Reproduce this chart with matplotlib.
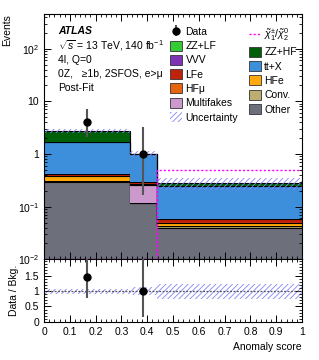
import numpy as np
import matplotlib
matplotlib.use("Agg")
import matplotlib.pyplot as plt
from matplotlib.patches import Patch
from matplotlib.lines import Line2D
from matplotlib.ticker import FixedLocator, MultipleLocator, LogLocator, NullFormatter

plt.rcParams['font.family'] = ['Liberation Sans', 'DejaVu Sans']
plt.rcParams['mathtext.fontset'] = 'custom'
plt.rcParams['mathtext.rm'] = 'Liberation Sans'
plt.rcParams['mathtext.it'] = 'Liberation Sans:italic'
plt.rcParams['hatch.linewidth'] = 0.6

# binning and data
edges = np.array([0.0, 0.333, 0.437, 1.0])
data = np.array([4, 1, 0])
data_lo = np.array([2.09, 0.17, 0.0])
data_hi = np.array([7.16, 3.30, 0.0])

# stacked backgrounds, bottom to top
bkg_names = ['Other', 'Conv.', 'Multifakes', 'HF$\\mu$', 'HFe', 'LFe', 'VVV', 'tt+X', 'ZZ+LF', 'ZZ+HF']
bkg_colors = ['#6d6f7b', '#bcae70', '#cc99cc', '#e8650f', '#ffa90a', '#c0230a', '#7c35b5', '#3d8fdb', '#33cc33', '#00600a']
other = [0.298, 0.115, 0.0387]
conv = [0.010, 0.0, 0.0041]
multifakes = [0.0, 0.142, 0.0]
hfmu = [0.0, 0.0, 0.0]
hfe = [0.079, 0.012, 0.0072]
lfe = [0.033, 0.025, 0.009]
vvv = [0.0, 0.0, 0.0]
ttx = [1.29, 0.70, 0.187]
zzlf = [0.0, 0.0, 0.0]
zzhf = [1.03, 0.01, 0.031]
bkgs = [other, conv, multifakes, hfmu, hfe, lfe, vvv, ttx, zzlf, zzhf]

rel_unc = np.array([0.085, 0.13, 0.24])
signal = np.array([0.0, 0.0, 0.5])
sig_label = r'$\tilde{\chi}^{\pm}_{1}/\tilde{\chi}^{0}_{2}$'

ymin, ymax = 1e-2, 450
unc_col = '#8585f5'

fig = plt.figure(figsize=(3.19, 3.6), dpi=100)
ax = fig.add_axes([0.138, 0.2797, 0.809, 0.6806])
rax = fig.add_axes([0.138, 0.1064, 0.809, 0.1733], sharex=ax)

# stack
bottom = np.zeros(3)
for vals, col in zip(bkgs, bkg_colors):
    vals = np.array(vals)
    ax.stairs(bottom + vals, edges, baseline=bottom, fill=True, color=col, lw=0)
    ax.stairs(bottom + vals, edges, baseline=None, color='black', lw=0.8)
    bottom = bottom + vals
total = bottom

# uncertainty band
ax.stairs(total * (1 + rel_unc), edges, baseline=total * (1 - rel_unc), fill=True,
          facecolor='none', edgecolor=unc_col, hatch='//////', lw=0)
rax.stairs(1 + rel_unc, edges, baseline=1 - rel_unc, fill=True,
           facecolor='none', edgecolor=unc_col, hatch='//////', lw=0)

# signal
ax.stairs(np.maximum(signal, ymin * 1.02), edges, baseline=None, color='#ff00ff', lw=1.0, ls=(0, (1.5, 1.5)))
ax.plot([edges[2], edges[2]], [ymin, signal[2]], color='#ff00ff', lw=1.0, ls=(0, (1.5, 1.5)))

# data
centers = 0.5 * (edges[:-1] + edges[1:])
m = data > 0
data_eb = ax.errorbar(centers[m], data[m], yerr=[data[m] - data_lo[m], data_hi[m] - data[m]],
                      fmt='o', color='black', ecolor='#555555', elinewidth=1.5, ms=5, capsize=0, zorder=5)
ratio = data / total
rax.errorbar(centers[m], ratio[m], yerr=[(data[m] - data_lo[m]) / total[m], (data_hi[m] - data[m]) / total[m]],
             fmt='o', color='black', ecolor='#555555', elinewidth=1.5, ms=5, capsize=0, zorder=5)
rax.axhline(1, color='#555555', lw=0.9, ls=(0, (1.5, 1.2)))

ax.set_yscale('log')
ax.set_ylim(ymin, ymax)
ax.set_xlim(0, 1)
ax.yaxis.set_major_locator(FixedLocator([1e-2, 1e-1, 1, 10, 100]))
ax.set_yticklabels([r'$10^{-2}$', r'$10^{-1}$', '1', '10', r'$10^{2}$'])
ax.yaxis.set_minor_locator(LogLocator(base=10, subs=np.arange(2, 10)))
ax.yaxis.set_minor_formatter(NullFormatter())
ax.tick_params(labelbottom=False)
ax.set_ylabel('Events', loc='top', fontsize=7.5)

rax.set_ylim(0, 2.05)
rax.yaxis.set_major_locator(FixedLocator([0, 0.5, 1, 1.5]))
rax.set_yticklabels(['0', '0.5', '1', '1.5'])
rax.yaxis.set_minor_locator(MultipleLocator(0.1))
rax.xaxis.set_minor_locator(MultipleLocator(0.02))
rax.set_xticks(np.arange(0, 1.01, 0.1))
rax.set_xticklabels(['0', '0.1', '0.2', '0.3', '0.4', '0.5', '0.6', '0.7', '0.8', '0.9', '1'])
rax.set_ylabel('Data / Bkg.', fontsize=7.5)
rax.set_xlabel('Anomaly score', loc='right', fontsize=7.5)

for a in (ax, rax):
    a.tick_params(which='both', direction='in', top=True, right=True, labelsize=7.5)
    a.tick_params(which='major', length=5, width=0.7)
    a.tick_params(which='minor', length=2.5, width=0.6)
    for s in a.spines.values():
        s.set_linewidth(0.8)

# text
ax.text(0.055, 0.932, 'ATLAS', transform=ax.transAxes, fontsize=7.5, fontweight='bold', fontstyle='italic', va='center')
lines = [r'$\sqrt{s}$ = 13 TeV, 140 fb$^{-1}$', '4l, Q=0', '0Z,   \u22651b, 2SFOS, e>\u03bc', 'Post-Fit']
for i, t in enumerate(lines):
    ax.text(0.055, 0.932 - 0.0584 * (i + 1), t, transform=ax.transAxes, fontsize=7.5, va='center')

# legend
hatch_patch = Patch(facecolor='none', edgecolor=unc_col, hatch='//////', lw=0)
def box(c):
    return Patch(facecolor=c, edgecolor='#333333', lw=0.6)
col1 = [(data_eb, 'Data'), (box(bkg_colors[8]), 'ZZ+LF'), (box(bkg_colors[6]), 'VVV'),
        (box(bkg_colors[5]), 'LFe'), (box(bkg_colors[3]), 'HF\u03bc'), (box(bkg_colors[2]), 'Multifakes'),
        (hatch_patch, 'Uncertainty')]
col2 = [(Line2D([], [], color='#ff00ff', lw=1.0, ls=(0, (1.5, 1.5))), sig_label),
        (box(bkg_colors[9]), 'ZZ+HF'), (box(bkg_colors[7]), 'tt+X'), (box(bkg_colors[4]), 'HFe'),
        (box(bkg_colors[1]), 'Conv.'), (box(bkg_colors[0]), 'Other')]
kw = dict(frameon=False, fontsize=7.5, handlelength=1.1, handleheight=1.1, handletextpad=0.35,
          labelspacing=0.36, borderpad=0, borderaxespad=0, loc='upper left')
leg1 = ax.legend([h for h, _ in col1], [l for _, l in col1], bbox_to_anchor=(0.49, 0.951), **kw)
ax.add_artist(leg1)
ax.legend([h for h, _ in col2], [l for _, l in col2], bbox_to_anchor=(0.795, 0.951), **kw)

fig.savefig('out.png', dpi=100)
